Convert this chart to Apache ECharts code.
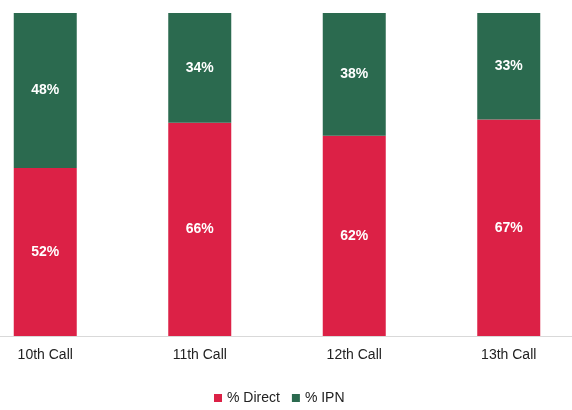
<!DOCTYPE html>
<html><head><meta charset="utf-8">
<script src="https://cdn.jsdelivr.net/npm/echarts@6/dist/echarts.min.js"></script>
<style>html,body{margin:0;padding:0;background:#fff;overflow:hidden;width:572px;height:410px}#c{position:absolute;left:-32px;top:0;width:618px;height:410px}</style>
</head><body><div id="c"></div>
<script>
const categories = ['10th Call', '11th Call', '12th Call', '13th Call'];
const direct = [52, 66, 62, 67];
const ipn = [48, 34, 38, 33];

const chart = echarts.init(document.getElementById('c'));
const lbl = {show: true, position: 'inside', color: '#fff', fontWeight: 'bold', fontSize: 14,
  fontFamily: 'Liberation Sans, Arial', formatter: '{c}%'};
chart.setOption({
  animation: false,
  grid: {left: 0, right: 0, top: 13, bottom: 74},
  legend: {bottom: 0, left: 241, itemWidth: 8, itemHeight: 8, itemGap: 12,
    icon: 'rect', textStyle: {fontSize: 14, color: '#222', fontFamily: 'Liberation Sans, Arial'},
    data: ['% Direct', '% IPN']},
  xAxis: {type: 'category', data: categories,
    axisLine: {lineStyle: {color: '#d9d9d9'}}, axisTick: {show: false},
    axisLabel: {color: '#222', fontSize: 14, margin: 12, fontFamily: 'Liberation Sans, Arial'}},
  yAxis: {type: 'value', min: 0, max: 100, show: false},
  series: [
    {name: '% Direct', type: 'bar', stack: 'a', data: direct, barWidth: 63,
      itemStyle: {color: '#dc2146'}, label: lbl},
    {name: '% IPN', type: 'bar', stack: 'a', data: ipn, barWidth: 63,
      itemStyle: {color: '#2b6a4f'}, label: lbl}
  ]
});
</script></body></html>
